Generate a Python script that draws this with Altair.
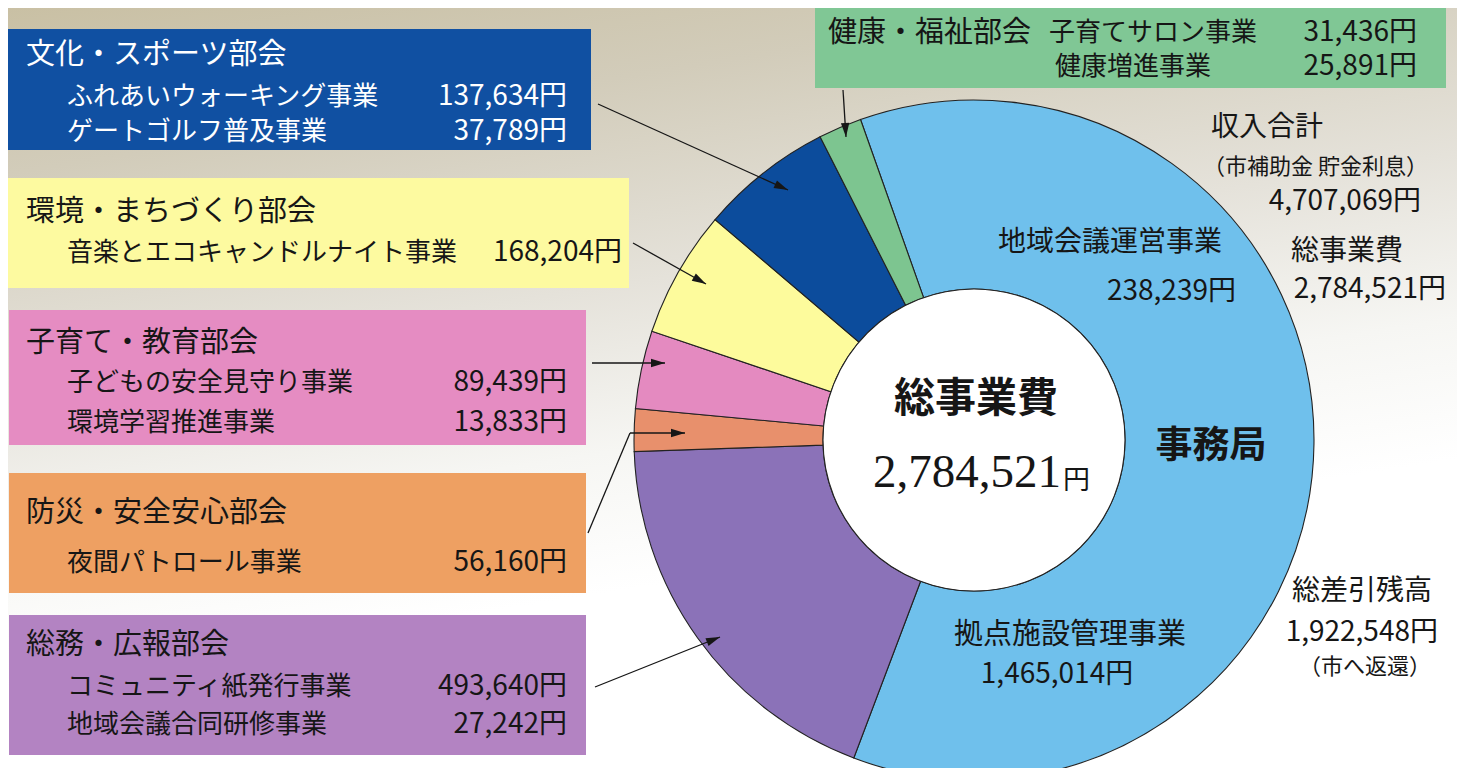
import math
import altair as alt
import pandas as pd

# ---------------- data ----------------
groups = ["事務局", "総務・広報部会", "防災・安全安心部会", "子育て・教育部会",
          "環境・まちづくり部会", "文化・スポーツ部会", "健康・福祉部会"]
jimu_items = ["地域会議運営事業", "拠点施設管理事業"]
jimu_values = [238239, 1465014]
soumu_items = ["コミュニティ紙発行事業", "地域会議合同研修事業"]
soumu_values = [493640, 27242]
bousai_items = ["夜間パトロール事業"]
bousai_values = [56160]
kosodate_items = ["子どもの安全見守り事業", "環境学習推進事業"]
kosodate_values = [89439, 13833]
kankyo_items = ["音楽とエコキャンドルナイト事業"]
kankyo_values = [168204]
bunka_items = ["ふれあいウォーキング事業", "ゲートゴルフ普及事業"]
bunka_values = [137634, 37789]
kenkou_items = ["子育てサロン事業", "健康増進事業"]
kenkou_values = [31436, 25891]
income_total = 4707069
total_cost = 2784521
balance = 1922548

group_items = [jimu_values, soumu_values, bousai_values, kosodate_values,
               kankyo_values, bunka_values, kenkou_values]

# ---------------- styles ----------------
slice_colors = ["#6fc0ec", "#8b72b8", "#e8906c", "#e48ac0", "#fdfb9c", "#0c4c9c", "#7dc590"]
SANS = "Noto Sans CJK JP"
SERIF = "Liberation Serif, DejaVu Serif, Noto Sans CJK JP"
INK = "#161616"
O = 8  # page margin offset
W, H = 1449, 760


def X(x):
    return x - O


def Y(y):
    return y - O


def yen(v):
    return f"{v:,}円"


one = alt.Data(values=[{"a": 1}])

# ---------------- background ----------------
bg = alt.Chart(one).mark_rect(
    color=alt.Gradient(
        gradient="linear",
        stops=[alt.GradientStop(color="#c9c0a4", offset=0),
               alt.GradientStop(color="#d2ccba", offset=0.2),
               alt.GradientStop(color="#e5e2da", offset=0.45),
               alt.GradientStop(color="#f6f6f3", offset=0.65),
               alt.GradientStop(color="#ffffff", offset=0.82)],
        x1=0, y1=0, x2=0.3, y2=1)
).encode(x=alt.value(0), x2=alt.value(W), y=alt.value(0), y2=alt.value(H))

# ---------------- boxes ----------------
box_layout = [
    (8, 29, 591, 150, "#1050a2"),
    (8, 178, 629, 288, "#fdfaa0"),
    (9, 310, 586, 445, "#e58cc2"),
    (9, 473, 586, 593, "#eea062"),
    (9, 615, 586, 755, "#b383c2"),
    (815, 8, 1446, 88, "#80c795"),
]
box_df = pd.DataFrame([{"x": X(a), "y": Y(b), "x2": X(c), "y2": Y(d), "f": f}
                       for a, b, c, d, f in box_layout])
boxes = alt.Chart(box_df).mark_rect().encode(
    x=alt.X("x:Q", scale=None, axis=None), x2="x2:Q",
    y=alt.Y("y:Q", scale=None, axis=None), y2="y2:Q",
    fill=alt.Fill("f:N", scale=None))

# ---------------- donut ----------------
donut_df = pd.DataFrame({"group": groups,
                         "value": [sum(v) for v in group_items],
                         "order": list(range(len(groups)))})
start = 2 * math.pi - math.radians(19.5)
CX, CY = X(974), Y(440)
donut = alt.Chart(donut_df).mark_arc(
    innerRadius=151, outerRadius=340, stroke="#222222", strokeWidth=1.1
).encode(
    theta=alt.Theta("value:Q", stack=True,
                    scale=alt.Scale(range=[start, start + 2 * math.pi])),
    color=alt.Color("group:N", scale=alt.Scale(domain=groups, range=slice_colors), legend=None),
    order=alt.Order("order:Q"),
    x=alt.value(CX), y=alt.value(CY))

hole = alt.Chart(one).mark_arc(
    innerRadius=0, outerRadius=151, theta=0, theta2=2 * math.pi,
    fill="white", stroke="#222222", strokeWidth=1.1
).encode(x=alt.value(CX), y=alt.value(CY))

# ---------------- arrows ----------------
arrows = [
    [(598, 104), (788, 190)],
    [(633, 243), (706, 284)],
    [(592, 363), (665, 363)],
    [(588, 533), (630, 433), (685, 433)],
    [(595, 687), (720, 637)],
    [(843, 90), (846, 137)],
]
segs, heads = [], []
for pts in arrows:
    for (a, b), (c, d) in zip(pts[:-1], pts[1:]):
        segs.append({"x": X(a), "y": Y(b), "x2": X(c), "y2": Y(d)})
    (a, b), (c, d) = pts[-2], pts[-1]
    L = math.hypot(c - a, d - b)
    ux, uy = (c - a) / L, (d - b) / L
    heads.append({"x": X(c - 7 * ux), "y": Y(d - 7 * uy),
                  "ang": math.degrees(math.atan2(uy, ux)) % 360})
rules = alt.Chart(pd.DataFrame(segs)).mark_rule(color=INK, strokeWidth=1.3).encode(
    x=alt.X("x:Q", scale=None, axis=None), x2="x2:Q",
    y=alt.Y("y:Q", scale=None, axis=None), y2="y2:Q")
tips = alt.Chart(pd.DataFrame(heads)).mark_point(
    shape="M1,0L-1,-0.6L-1,0.6Z", filled=True, size=196, color=INK, opacity=1, strokeWidth=0
).encode(x=alt.X("x:Q", scale=None, axis=None), y=alt.Y("y:Q", scale=None, axis=None),
         angle=alt.Angle("ang:Q", scale=None))

# ---------------- texts ----------------
texts = {}


def T(t, x, y, size, align="left", color=INK, weight="normal", font=SANS):
    key = (size, align, color, weight, font)
    texts.setdefault(key, []).append({"t": t, "x": X(x), "y": Y(y)})


def block(title, items, values, ty, iys, vx, color=INK):
    T(title, 26, ty, 29, color=color)
    for it, v, iy in zip(items, values, iys):
        T(it, 67, iy, 26, color=color)
        T(yen(v), vx, iy, 28, align="right", color=color)


block(groups[5], bunka_items, bunka_values, 55, [97, 132], 567, color="#ffffff")
block(groups[4], kankyo_items, kankyo_values, 212, [253], 622)
block(groups[3], kosodate_items, kosodate_values, 343, [383, 423], 567)
block(groups[2], bousai_items, bousai_values, 513, [563], 567)
block(groups[1], soumu_items, soumu_values, 645, [687, 725], 567)

T(groups[6], 828, 33, 29)
T(kenkou_items[0], 1049, 33, 26)
T(kenkou_items[1], 1055, 67, 26)
T(yen(kenkou_values[0]), 1417, 33, 28, align="right")
T(yen(kenkou_values[1]), 1417, 67, 28, align="right")

T("収入合計", 1211, 128, 28)
T("（市補助金 貯金利息）", 1203, 167, 22)
T(yen(income_total), 1421, 202, 28, align="right")
T("総事業費", 1291, 252, 28)
T(yen(total_cost), 1446, 290, 28, align="right")
T("総差引残高", 1292, 592, 28)
T(yen(balance), 1438, 633, 28, align="right")
T("（市へ返還）", 1365, 667, 22, align="center")

T(jimu_items[0], 1110, 243, 28, align="center")
T(yen(jimu_values[0]), 1236, 292, 28, align="right")
T(groups[0], 1211, 447, 37, align="center", weight="bold")
T(jimu_items[1], 1070, 635, 29, align="center")
T(yen(jimu_values[1]), 1057, 675, 28, align="center")

T("総事業費", 976, 400, 41, align="center", weight="bold")
T(f"{total_cost:,}", 1061, 473, 47, align="right", font=SERIF)
T("円", 1063, 481, 27, align="left", font=SERIF)

text_layers = []
for (size, align, color, weight, font), rows in texts.items():
    text_layers.append(
        alt.Chart(pd.DataFrame(rows)).mark_text(
            fontSize=size, align=align, baseline="middle", color=color,
            fontWeight=weight, font=font
        ).encode(x=alt.X("x:Q", scale=None, axis=None),
                 y=alt.Y("y:Q", scale=None, axis=None), text="t:N"))

chart = alt.layer(bg, boxes, donut, hole, rules, tips, *text_layers).properties(
    width=W, height=H, padding=0,
    autosize=alt.AutoSizeParams(type="none")
).configure_view(stroke=None).configure(background="#ffffff")

chart.save("out.html", embed_options={"renderer": "svg", "actions": False})
